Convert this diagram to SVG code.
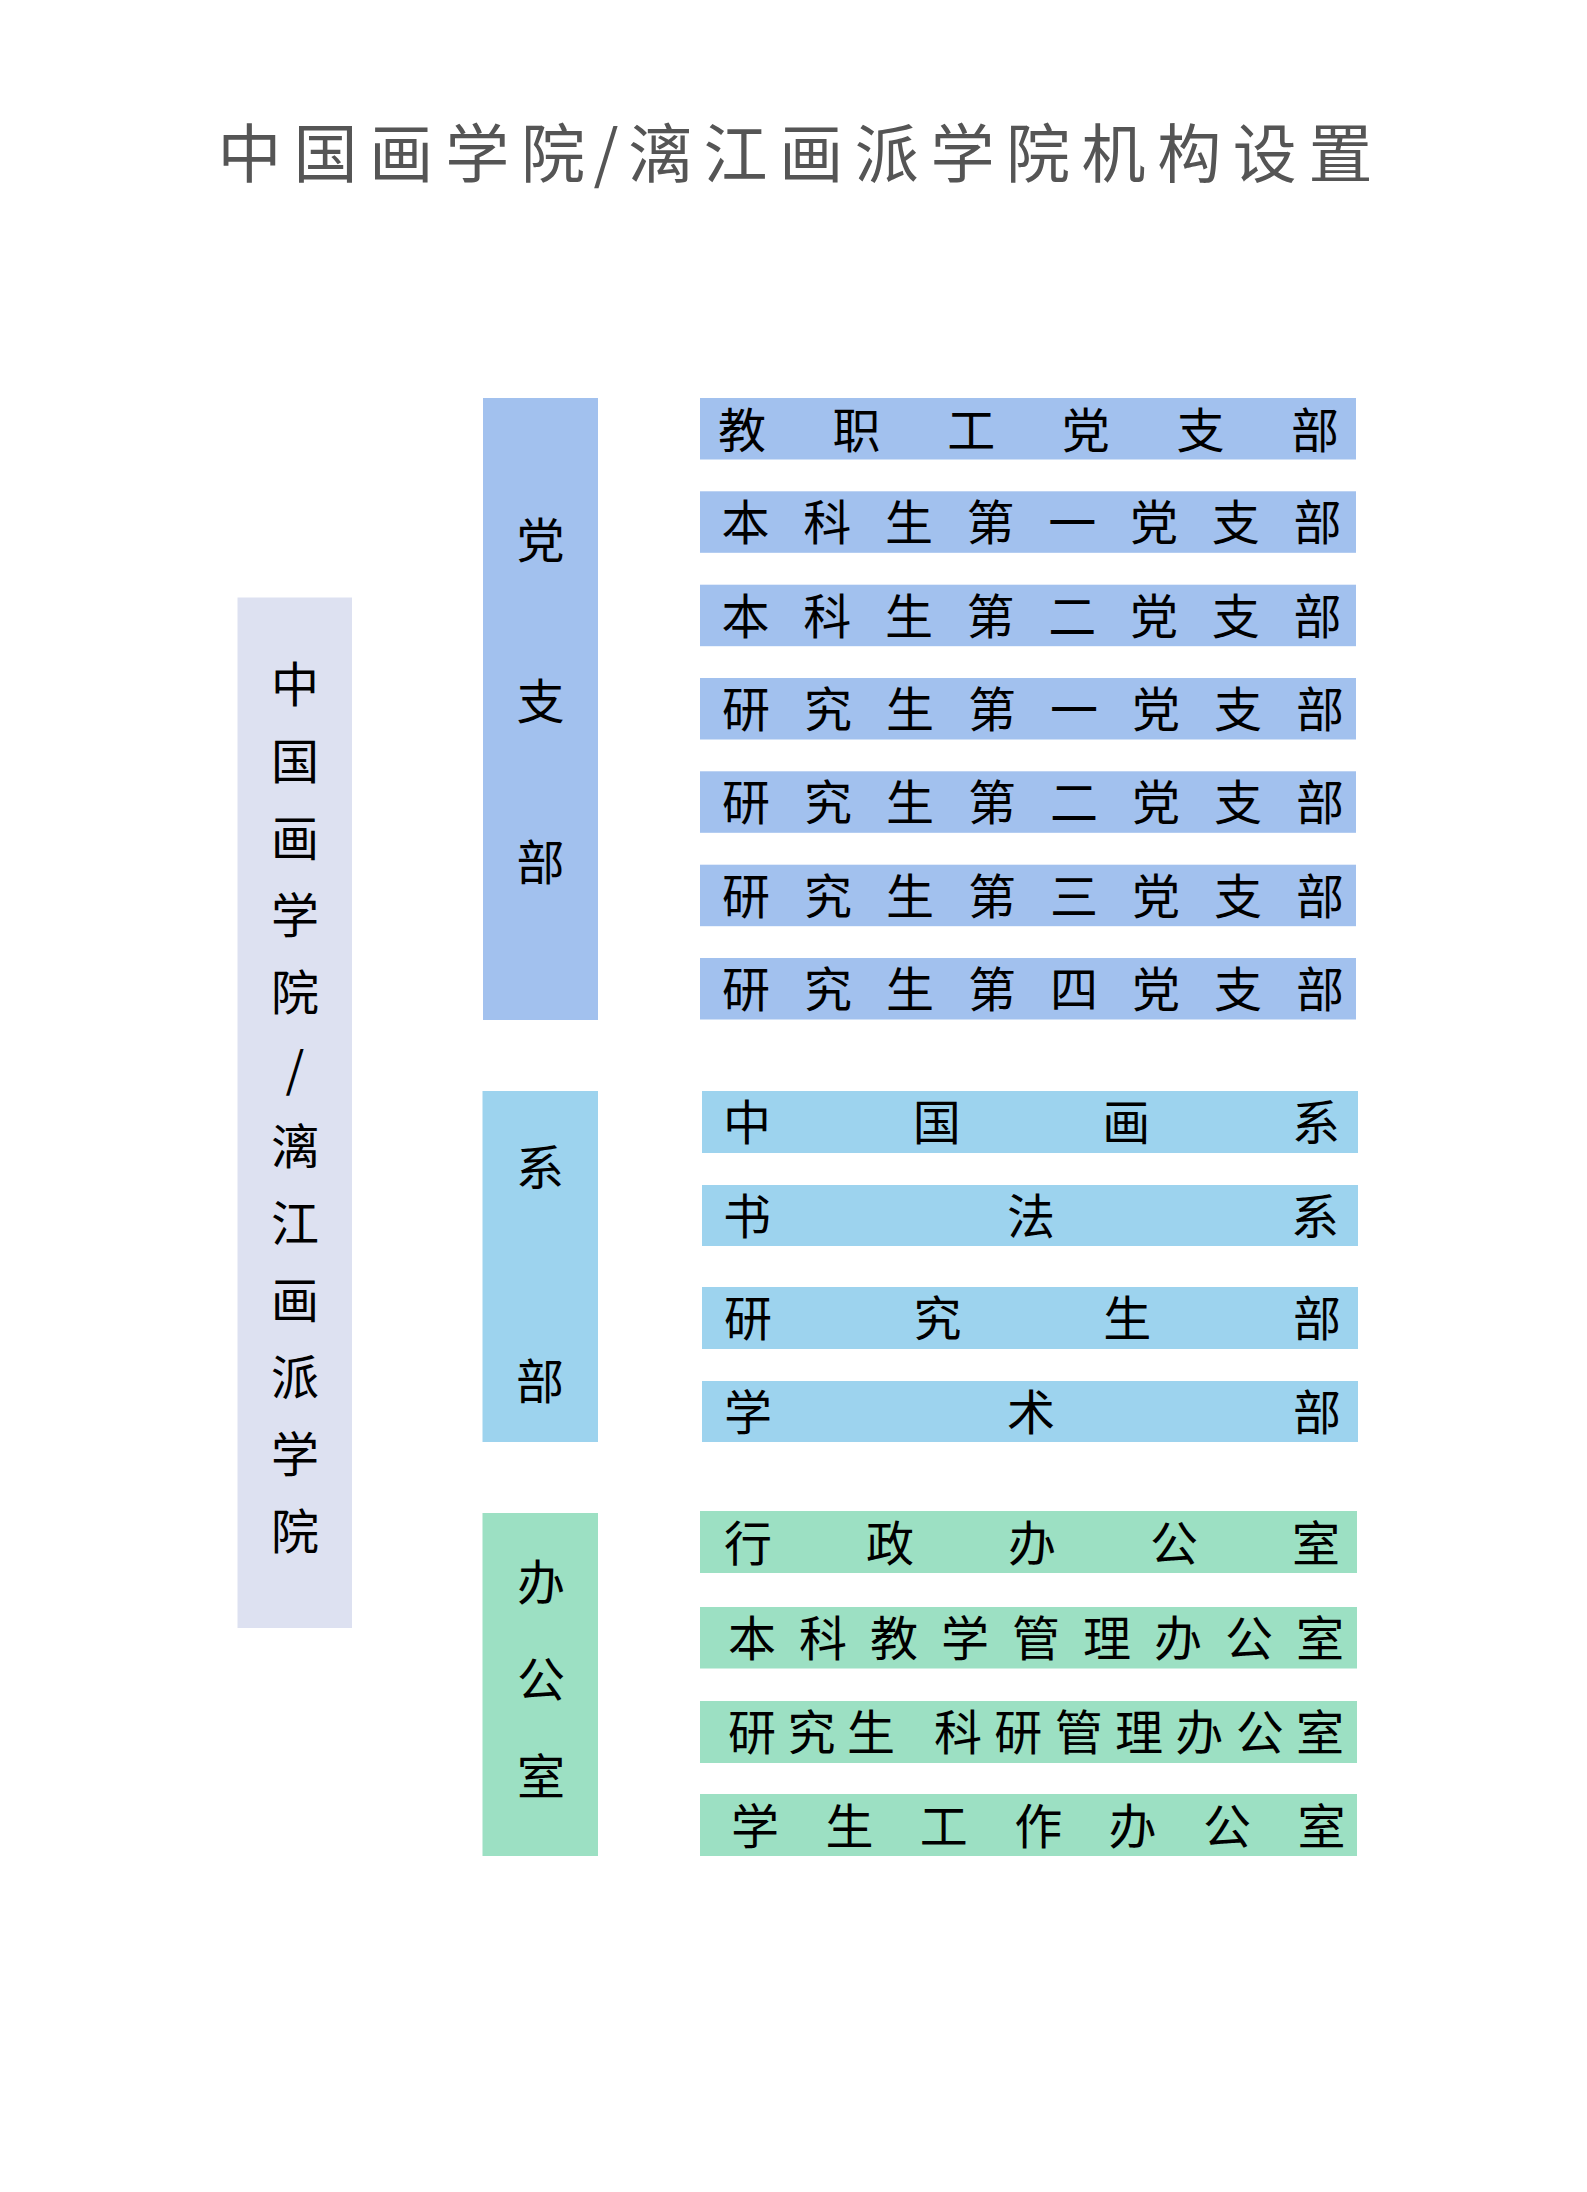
<svg xmlns="http://www.w3.org/2000/svg" width="1587" height="2192" viewBox="0 0 1587 2192">
<style>
.t{font-family:"Noto Sans CJK SC","Noto Sans",sans-serif;font-size:48px;fill:#000;text-anchor:middle}
.title{font-family:"Noto Sans CJK SC","Noto Sans",sans-serif;font-size:64px;fill:#555;text-anchor:middle}
.root{fill:#dde1f1}
.party{fill:#a2c1ee}
.dept{fill:#9dd3ee}
.office{fill:#9ce0c3}
</style>
<rect width="1587" height="2192" fill="#fff"/>
<g id="title">
<text class="title" x="249.5 325.4 401.3 477.2 553.1 606 660 735.6 811.2 886.8 962.4 1038 1113.6 1189.2 1264.8 1340.4" y="176.5">中国画学院/漓江画派学院机构设置</text>
</g>
<g id="connectors"/>
<g id="root">
<rect class="root" x="237.5" y="597.5" width="114.5" height="1030.5"/>
<text class="t" x="295 295 295 295 295 295 295 295 295 295 295 295" y="702 779 856 933 1010 1087 1164 1241 1318 1395 1472 1549">中国画学院/漓江画派学院</text>
</g>
<g id="party">
<rect class="party" x="483" y="398" width="115" height="622"/>
<text class="t" x="540.5 540.5 540.5" y="558 718.5 880">党支部</text>
</g>
<g id="dept">
<rect class="dept" x="482.5" y="1091" width="115.5" height="351"/>
<text class="t" x="540 540" y="1185 1399">系部</text>
</g>
<g id="office">
<rect class="office" x="482.5" y="1513" width="115.5" height="343"/>
<text class="t" x="541 541 541" y="1600 1697 1794">办公室</text>
</g>
<g id="party-1">
<rect class="party" x="700" y="398" width="656" height="61.5"/>
<text class="t" x="742 856.6 971.2 1085.8 1200.4 1315" y="448">教职工党支部</text>
</g>
<g id="party-2">
<rect class="party" x="700" y="491.3" width="656" height="61.5"/>
<text class="t" x="745.5 827.2 908.9 990.6 1072.3 1154 1235.7 1317.4" y="540">本科生第一党支部</text>
</g>
<g id="party-3">
<rect class="party" x="700" y="584.7" width="656" height="61.5"/>
<text class="t" x="745.5 827.2 908.9 990.6 1072.3 1154 1235.7 1317.4" y="633.5">本科生第二党支部</text>
</g>
<g id="party-4">
<rect class="party" x="700" y="678" width="656" height="61.5"/>
<text class="t" x="746 828 910 992 1074 1156 1238 1320" y="727">研究生第一党支部</text>
</g>
<g id="party-5">
<rect class="party" x="700" y="771.3" width="656" height="61.5"/>
<text class="t" x="746 828 910 992 1074 1156 1238 1320" y="820">研究生第二党支部</text>
</g>
<g id="party-6">
<rect class="party" x="700" y="864.7" width="656" height="61.5"/>
<text class="t" x="746 828 910 992 1074 1156 1238 1320" y="913.5">研究生第三党支部</text>
</g>
<g id="party-7">
<rect class="party" x="700" y="958" width="656" height="61.5"/>
<text class="t" x="746 828 910 992 1074 1156 1238 1320" y="1006.5">研究生第四党支部</text>
</g>
<g id="dept-1">
<rect class="dept" x="702" y="1091" width="656" height="62"/>
<text class="t" x="747 936.7 1126.3 1316" y="1140">中国画系</text>
</g>
<g id="dept-2">
<rect class="dept" x="702" y="1185" width="656" height="61"/>
<text class="t" x="747 1031 1315" y="1233.5">书法系</text>
</g>
<g id="dept-3">
<rect class="dept" x="702" y="1287" width="656" height="62"/>
<text class="t" x="748 937.6 1127.3 1317" y="1336">研究生部</text>
</g>
<g id="dept-4">
<rect class="dept" x="702" y="1381" width="656" height="61"/>
<text class="t" x="748 1031 1317" y="1429.5">学术部</text>
</g>
<g id="office-1">
<rect class="office" x="700" y="1511" width="657" height="62"/>
<text class="t" x="748 890 1032 1174 1316" y="1561">行政办公室</text>
</g>
<g id="office-2">
<rect class="office" x="700" y="1607" width="657" height="61.5"/>
<text class="t" x="752 823 894 965 1036 1107 1178 1249 1320" y="1656">本科教学管理办公室</text>
</g>
<g id="office-3">
<rect class="office" x="700" y="1701" width="657" height="62"/>
<text class="t" x="752 811.5 871 958 1018.3 1078.7 1139 1199.3 1259.7 1320" y="1749.5">研究生科研管理办公室</text>
</g>
<g id="office-4">
<rect class="office" x="700" y="1794" width="657" height="62"/>
<text class="t" x="755 849.4 943.8 1038.2 1132.6 1227 1321.4" y="1843.5">学生工作办公室</text>
</g>
</svg>
